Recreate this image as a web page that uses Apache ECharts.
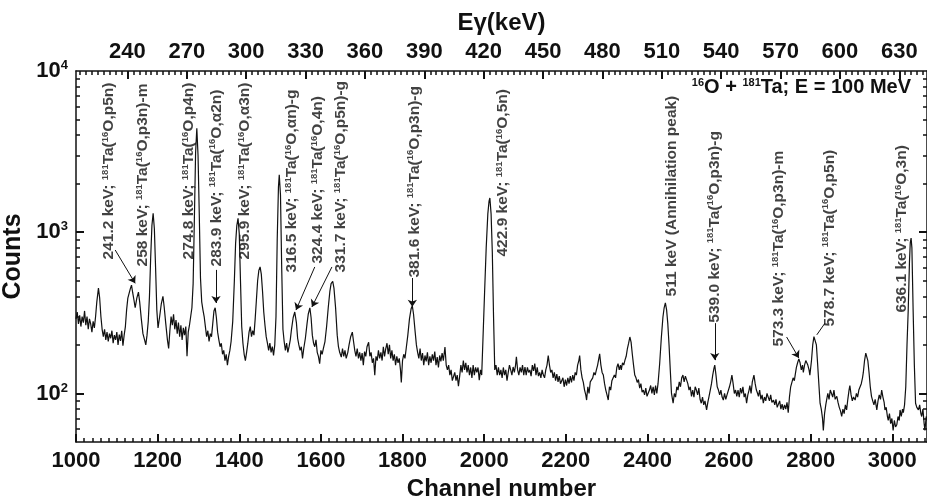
<!DOCTYPE html>
<html>
<head>
<meta charset="utf-8">
<title>16O + 181Ta gamma spectrum</title>
<script src="https://cdn.jsdelivr.net/npm/echarts@6/dist/echarts.min.js"></script>
<style>
  html, body { margin: 0; background: #fff; }
  #main { width: 927px; height: 498px; }
</style>
</head>
<body>
<div id="main"></div>
<script>
// spectrum: [channel, counts]
var spectrum = [
  [1000,290],[1003,320],[1006,270],[1009,305],[1012,260],[1015,300],[1018,275],[1021,325],[1024,265],[1027,300],
  [1030,250],[1033,290],[1036,270],[1039,240],[1042,280],[1045,255],[1048,300],[1051,370],[1055,450],[1058,390],
  [1061,300],[1064,250],[1067,225],[1070,250],[1073,215],[1076,240],[1079,210],[1082,235],[1085,220],[1088,245],
  [1091,205],[1094,230],[1097,215],[1100,240],[1103,200],[1106,232],[1109,212],[1112,245],[1115,198],[1118,230],
  [1121,260],[1124,330],[1127,390],[1130,400],[1133,445],[1136,470],[1139,420],[1142,380],[1145,340],[1149,390],
  [1153,425],[1156,370],[1160,290],[1164,235],[1168,215],[1171,200],[1174,230],[1177,280],[1180,400],[1183,700],
  [1186,1100],[1189,1310],[1192,1050],[1195,600],[1198,330],[1201,255],[1205,300],[1209,360],[1213,400],[1216,345],
  [1220,270],[1224,215],[1227,190],[1230,245],[1233,300],[1236,265],[1239,310],[1242,250],[1245,285],[1248,235],
  [1251,275],[1254,225],[1257,265],[1260,215],[1263,255],[1266,230],[1269,260],[1272,170],[1275,240],[1278,265],
  [1281,300],[1284,340],[1287,480],[1290,1200],[1293,3100],[1296,4420],[1299,3000],[1302,1300],[1305,520],[1308,370],
  [1311,330],[1314,300],[1317,260],[1320,225],[1323,245],[1326,210],[1329,235],[1332,225],[1335,270],[1338,325],
  [1341,340],[1344,295],[1347,240],[1350,215],[1353,195],[1356,205],[1359,175],[1362,185],[1365,160],[1368,175],
  [1371,150],[1374,170],[1377,185],[1380,210],[1384,280],[1388,500],[1391,850],[1394,1100],[1397,1220],[1400,980],
  [1403,500],[1406,260],[1409,205],[1412,175],[1415,160],[1418,180],[1421,205],[1424,240],[1427,260],[1430,225],
  [1433,245],[1436,230],[1439,290],[1442,380],[1445,500],[1448,580],[1451,610],[1454,550],[1457,430],[1460,320],
  [1463,265],[1466,225],[1469,205],[1472,185],[1475,205],[1478,180],[1481,195],[1484,172],[1487,200],[1490,300],
  [1493,900],[1496,1900],[1498,2270],[1501,1700],[1504,600],[1507,250],[1510,210],[1513,185],[1516,205],[1519,180],
  [1522,195],[1525,215],[1528,250],[1532,295],[1536,320],[1540,275],[1543,220],[1546,200],[1549,185],[1552,195],
  [1555,165],[1558,190],[1562,220],[1566,270],[1569,310],[1573,340],[1576,295],[1579,230],[1582,205],[1585,195],
  [1588,215],[1591,180],[1594,170],[1597,153],[1600,185],[1603,175],[1606,190],[1610,210],[1614,260],[1618,340],
  [1622,430],[1625,480],[1629,495],[1632,450],[1636,340],[1640,230],[1643,195],[1646,180],[1650,168],[1653,190],
  [1656,170],[1659,185],[1662,165],[1666,180],[1669,200],[1673,225],[1677,240],[1680,210],[1683,185],[1686,170],
  [1689,190],[1692,165],[1695,180],[1698,160],[1701,178],[1704,150],[1707,182],[1710,170],[1713,195],[1717,208],
  [1720,170],[1723,180],[1726,155],[1729,165],[1732,130],[1735,170],[1738,160],[1741,185],[1744,165],[1747,180],
  [1750,160],[1753,195],[1756,170],[1759,190],[1762,205],[1765,175],[1768,200],[1771,165],[1774,185],[1777,160],
  [1780,175],[1783,150],[1786,170],[1789,155],[1792,165],[1795,140],[1797,117],[1800,160],[1803,175],[1806,165],
  [1809,190],[1813,230],[1817,290],[1821,335],[1824,350],[1827,310],[1831,240],[1834,200],[1837,180],[1840,165],
  [1843,190],[1846,160],[1849,178],[1852,150],[1855,172],[1858,158],[1861,180],[1864,150],[1867,170],[1870,155],
  [1873,175],[1876,160],[1879,182],[1882,150],[1885,168],[1888,145],[1891,172],[1894,158],[1897,178],[1900,160],
  [1904,194],[1907,150],[1910,140],[1913,150],[1916,130],[1919,140],[1922,120],[1925,117],[1928,135],[1931,120],
  [1934,130],[1937,111],[1940,128],[1943,150],[1946,135],[1949,160],[1952,140],[1955,155],[1958,135],[1961,150],
  [1964,130],[1967,145],[1970,125],[1973,150],[1976,130],[1979,145],[1982,135],[1985,145],[1988,121],[1991,140],
  [1994,130],[1997,214],[2001,420],[2005,800],[2009,1300],[2012,1560],[2014,1630],[2017,1300],[2020,750],[2023,300],
  [2026,140],[2029,150],[2032,130],[2035,145],[2038,130],[2041,140],[2044,125],[2047,145],[2050,130],[2053,140],
  [2056,120],[2059,135],[2062,150],[2065,140],[2068,130],[2071,146],[2074,135],[2077,150],[2079,169],[2082,140],
  [2085,130],[2088,145],[2091,135],[2094,150],[2097,130],[2100,146],[2103,130],[2106,145],[2109,135],[2112,140],
  [2115,128],[2118,150],[2121,138],[2124,153],[2127,130],[2130,145],[2133,128],[2136,135],[2139,125],[2142,140],
  [2145,130],[2148,125],[2151,140],[2154,150],[2157,172],[2160,150],[2163,135],[2166,140],[2169,125],[2172,135],
  [2175,120],[2178,132],[2181,118],[2184,128],[2187,115],[2190,117],[2193,125],[2196,110],[2199,122],[2202,112],
  [2205,125],[2208,115],[2211,128],[2214,117],[2217,130],[2220,120],[2223,135],[2226,130],[2229,150],[2232,160],
  [2234,172],[2237,140],[2240,125],[2243,117],[2246,105],[2249,98],[2251,91],[2254,110],[2257,100],[2260,118],
  [2263,117],[2266,125],[2269,135],[2272,130],[2275,140],[2278,150],[2281,165],[2283,176],[2286,150],[2289,135],
  [2292,130],[2295,115],[2298,105],[2301,98],[2304,91],[2307,110],[2310,105],[2313,120],[2316,117],[2319,130],
  [2322,125],[2325,145],[2328,153],[2331,140],[2334,150],[2336,140],[2339,155],[2342,150],[2345,161],[2348,170],
  [2351,190],[2354,205],[2357,224],[2360,208],[2363,175],[2366,150],[2369,130],[2372,125],[2375,117],[2378,122],
  [2381,108],[2384,115],[2387,102],[2390,105],[2393,98],[2396,108],[2399,96],[2402,96],[2405,105],[2408,112],
  [2411,100],[2414,110],[2417,98],[2420,112],[2423,100],[2426,115],[2430,153],[2434,220],[2438,297],[2441,340],
  [2444,365],[2447,330],[2450,270],[2453,200],[2456,140],[2459,100],[2463,87],[2466,100],[2469,95],[2472,110],
  [2475,105],[2478,118],[2481,110],[2484,125],[2487,130],[2490,118],[2493,128],[2496,130],[2499,115],[2502,105],
  [2505,110],[2508,96],[2511,105],[2514,95],[2517,110],[2520,105],[2523,98],[2526,108],[2529,92],[2532,87],
  [2535,95],[2538,85],[2541,90],[2545,79],[2548,88],[2551,96],[2554,105],[2557,115],[2560,130],[2563,143],
  [2565,150],[2568,130],[2571,110],[2574,105],[2577,98],[2580,105],[2583,95],[2586,91],[2589,100],[2592,92],
  [2595,98],[2598,96],[2601,110],[2604,118],[2607,130],[2610,115],[2613,100],[2616,105],[2619,96],[2622,105],
  [2625,95],[2628,108],[2631,100],[2634,110],[2637,95],[2640,100],[2643,87],[2646,98],[2649,105],[2651,112],
  [2654,100],[2657,118],[2661,130],[2664,115],[2667,105],[2670,100],[2672,96],[2675,105],[2678,92],[2681,98],
  [2684,87],[2687,95],[2690,90],[2693,100],[2696,100],[2699,90],[2702,98],[2705,88],[2709,91],[2712,85],
  [2715,92],[2718,82],[2721,84],[2724,90],[2727,80],[2730,86],[2733,79],[2736,85],[2739,80],[2742,88],
  [2745,76],[2748,95],[2751,110],[2754,112],[2757,125],[2760,120],[2762,130],[2765,145],[2768,155],[2771,164],
  [2774,155],[2777,140],[2780,150],[2782,135],[2785,150],[2788,160],[2790,164],[2793,150],[2796,140],[2798,130],
  [2802,160],[2805,200],[2808,225],[2811,231],[2814,200],[2817,153],[2820,115],[2823,87],[2826,80],[2829,70],
  [2831,59],[2834,75],[2837,85],[2839,91],[2842,100],[2845,92],[2848,105],[2851,100],[2854,95],[2857,105],
  [2860,92],[2864,96],[2867,88],[2870,82],[2873,78],[2876,72],[2879,80],[2882,75],[2885,85],[2888,79],
  [2891,92],[2894,105],[2896,112],[2899,98],[2902,90],[2905,95],[2909,91],[2912,100],[2915,95],[2918,105],
  [2921,105],[2924,115],[2927,125],[2929,135],[2932,160],[2935,178],[2937,182],[2940,160],[2943,135],[2946,110],
  [2949,96],[2952,90],[2955,85],[2958,92],[2962,79],[2965,90],[2968,98],[2971,92],[2974,105],[2977,95],
  [2980,88],[2982,79],[2985,82],[2988,72],[2990,68],[2993,75],[2996,65],[2999,70],[3002,59],[3005,68],
  [3008,62],[3011,64],[3014,72],[3017,68],[3019,79],[3022,72],[3025,80],[3027,76],[3030,85],[3033,110],
  [3036,200],[3039,329],[3042,650],[3044,860],[3046,920],[3048,800],[3051,329],[3054,150],[3057,87],[3060,82],
  [3064,79],[3067,85],[3070,75],[3072,72],[3075,80],[3078,65],[3080,59],[3083,72],[3085,68]
];

var channelTicks = [1000, 1200, 1400, 1600, 1800, 2000, 2200, 2400, 2600, 2800, 3000];
var energyTicks = [240, 270, 300, 330, 360, 390, 420, 450, 480, 510, 540, 570, 600, 630];
var countLabels = [100, 1000, 10000];
var countTicks = [100, 1000];

// peak annotations: where the foot of each rotated label sits, and its text
var labelAt = [
  [1081, 673], [1164, 609], [1277, 673], [1345, 609], [1414, 673],
  [1529, 559], [1593, 635], [1651, 559], [1830, 520], [2046, 702],
  [2460, 397], [2565, 273], [2724, 194], [2847, 258], [3025, 315]
];
var labelText = [
  '241.2 keV; {s|181}Ta({s|16}O,p5n)',
  '258 keV; {s|181}Ta({s|16}O,p3n)-m',
  '274.8 keV; {s|181}Ta({s|16}O,p4n)',
  '283.9 keV; {s|181}Ta({s|16}O,\u03b12n)',
  '295.9 keV; {s|181}Ta({s|16}O,\u03b13n)',
  '316.5 keV; {s|181}Ta({s|16}O,\u03b1n)-g',
  '324.4 keV; {s|181}Ta({s|16}O,4n)',
  '331.7 keV; {s|181}Ta({s|16}O,p5n)-g',
  '381.6 keV; {s|181}Ta({s|16}O,p3n)-g',
  '422.9 keV; {s|181}Ta({s|16}O,5n)',
  '511 keV (Annihilation peak)',
  '539.0 keV; {s|181}Ta({s|16}O,p3n)-g',
  '573.3 keV; {s|181}Ta({s|16}O,p3n)-m',
  '578.7 keV; {s|181}Ta({s|16}O,p5n)',
  '636.1 keV; {s|181}Ta({s|16}O,3n)'
];

// pointer lines from labels to peaks
var arrowFrom = [[1096, 776], [1343, 584], [1585, 609], [1627, 609], [1824, 520], [2565, 273], [2741, 224], [2835, 273]];
var arrowTo   = [[1145, 482], [1343, 364], [1539, 329], [1578, 344], [1824, 345], [2565, 161], [2771, 166], [2815, 231]];
var arrowHead = [true, true, true, true, true, true, true, false];

var F = '"Liberation Sans", Arial, sans-serif';
var INK = '#111';

var channelMinor = [];
for (var c = 1020; c <= 3080; c += 20) if (c % 200 !== 0) channelMinor.push(c);
var energyMinor = [];
for (var e = 216; e <= 642; e += 3) if (e % 30 !== 0) energyMinor.push(e);
var countMinor = [];
[10, 100, 1000].forEach(function (d) {
  for (var k = 2; k <= 9; k++) if (k * d > 50) countMinor.push(k * d);
});

function tickAxis(ax, ticks, len) {
  ax.axisTick = {
    show: true, inside: true, length: len, customValues: ticks,
    lineStyle: { color: INK, width: len > 5 ? 2 : 1.5 }
  };
  ax.splitLine = { show: false };
  return ax;
}
function majorX(pos, min, max, ticks, name, gap) {
  return tickAxis({
    type: 'value', position: pos, min: min, max: max,
    axisLine: { show: true, lineStyle: { color: INK, width: 1.5 } },
    axisLabel: {
      show: true, customValues: ticks, margin: 8, color: INK, fontSize: 22, fontWeight: 'bold', fontFamily: F,
      formatter: function (v) { return String(v); }
    },
    name: name, nameLocation: 'middle', nameGap: gap,
    nameTextStyle: { color: INK, fontSize: 24, fontWeight: 'bold', fontFamily: F }
  }, ticks, 8);
}
function minorX(pos, min, max, ticks) {
  return tickAxis({
    type: 'value', position: pos, min: min, max: max,
    axisLine: { show: false }, axisLabel: { show: false }
  }, ticks, 4);
}
function logY(pos, ticks, len) {
  return tickAxis({
    type: 'log', position: pos, min: 50, max: 10000,
    axisLine: { show: len > 5, lineStyle: { color: INK, width: 1.5 } },
    axisLabel: { show: false }
  }, ticks, len);
}

var leftY = logY('left', countTicks, 8);
leftY.axisLabel = {
  show: true, customValues: countLabels, margin: 8,
  formatter: function (v) { return '{b|10}{s|' + Math.round(Math.log10(v)) + '}'; },
  rich: {
    b: { color: INK, fontSize: 22, fontWeight: 'bold', fontFamily: F, lineHeight: 24 },
    s: { color: INK, fontSize: 13, fontWeight: 'bold', fontFamily: F, lineHeight: 12, verticalAlign: 'top' }
  }
};
leftY.name = 'Counts';
leftY.nameLocation = 'middle';
leftY.nameGap = 42;
leftY.nameTextStyle = { color: INK, fontSize: 25, fontWeight: 'bold', fontFamily: F };

var chart = echarts.init(document.getElementById('main'));
chart.setOption({
  animation: false,
  title: {
    text: '{s|16}O + {s|181}Ta; E = 100 MeV',
    right: 11, top: 72,
    textStyle: {
      color: INK, fontSize: 20, fontWeight: 'bold', fontFamily: F, lineHeight: 21,
      rich: { s: { color: INK, fontSize: 11, fontWeight: 'bold', fontFamily: F, lineHeight: 11, verticalAlign: 'top' } }
    }
  },
  grid: { left: 76, right: 0, top: 71, bottom: 56, outerBoundsMode: 'none' },
  xAxis: [
    majorX('bottom', 1000, 3085, channelTicks, 'Channel number', 31),
    minorX('bottom', 1000, 3085, channelMinor),
    majorX('top', 214, 644, energyTicks, 'E\u03b3(keV)', 36),
    minorX('top', 214, 644, energyMinor)
  ],
  yAxis: [
    leftY,
    logY('left', countMinor, 4),
    logY('right', countTicks, 8),
    logY('right', countMinor, 4)
  ],
  series: [
    {
      name: 'spectrum', type: 'line', xAxisIndex: 0, yAxisIndex: 0,
      data: spectrum, showSymbol: false, symbol: 'none', smooth: false,
      lineStyle: { color: INK, width: 1.2 },
      markLine: {
        silent: true, animation: false, symbolSize: 7,
        label: { show: false },
        lineStyle: { color: INK, width: 1, type: 'solid' },
        data: arrowFrom.map(function (p, i) {
          return [
            { coord: p, symbol: 'none' },
            { coord: arrowTo[i], symbol: arrowHead[i] ? 'arrow' : 'none' }
          ];
        })
      }
    },
    {
      name: 'labels', type: 'scatter', xAxisIndex: 0, yAxisIndex: 0,
      symbolSize: 1, silent: true,
      itemStyle: { color: 'rgba(0,0,0,0)' },
      data: labelAt.map(function (p, i) {
        return { value: p, label: { formatter: labelText[i] } };
      }),
      label: {
        show: true, position: [0, 0], rotate: 90, align: 'left', verticalAlign: 'middle',
        color: INK, fontSize: 15.5, fontWeight: 'bold', fontFamily: F, lineHeight: 17,
        rich: { s: { color: INK, fontSize: 9.5, fontWeight: 'bold', fontFamily: F, lineHeight: 10, verticalAlign: 'top' } }
      }
    }
  ]
});
</script>
</body>
</html>
